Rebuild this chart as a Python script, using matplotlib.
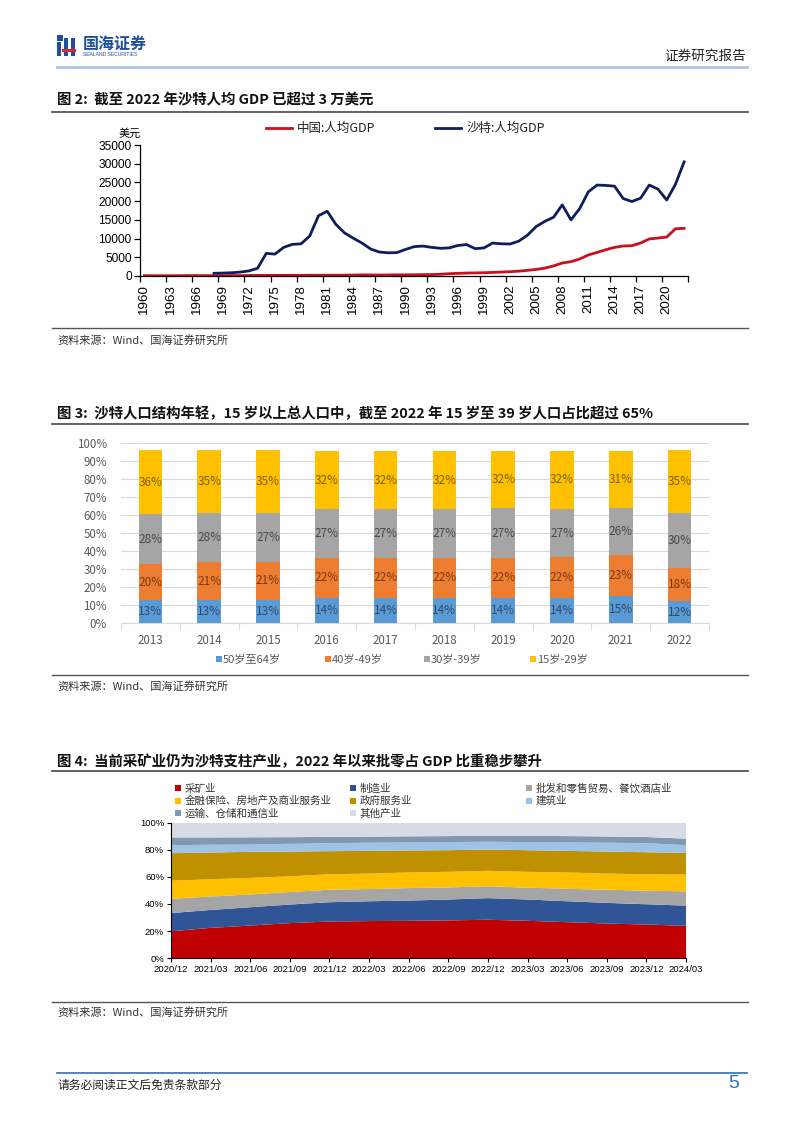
import matplotlib
matplotlib.use('Agg')
import matplotlib.pyplot as plt
from matplotlib.patches import Rectangle
from matplotlib.lines import Line2D
import numpy as np

plt.rcParams['font.family'] = ['Noto Sans CJK SC', 'DejaVu Sans']

# ---------------- data ----------------
gdp_years = list(range(1960, 2023))
china_gdp = [90, 76, 70, 74, 85, 98, 104, 96, 91, 100,
             113, 119, 132, 157, 160, 178, 165, 185, 156, 184,
             195, 197, 203, 225, 250, 294, 282, 252, 284, 311,
             318, 333, 366, 377, 473, 610, 709, 782, 829, 873,
             959, 1053, 1149, 1289, 1509, 1753, 2099, 2694, 3468, 3832,
             4550, 5614, 6301, 7020, 7636, 8016, 8094, 8817, 9905, 10144,
             10409, 12618, 12720]
saudi_years = list(range(1968, 2023))
saudi_gdp = [720, 790, 870, 1050, 1350, 2050, 6050, 5850, 7650, 8450,
             8600, 10700, 16100, 17300, 13800, 11500, 10100, 8800, 7200, 6400,
             6200, 6250, 7100, 7850, 8000, 7650, 7400, 7500, 8150, 8400,
             7300, 7500, 8800, 8600, 8550, 9300, 10900, 13200, 14600, 15700,
             19000, 15000, 18000, 22500, 24300, 24200, 24000, 20700, 19900, 20800,
             24300, 23200, 20300, 24500, 30500]
gdp_tick_years = list(range(1960, 2021, 3))

pop_years = ['2013', '2014', '2015', '2016', '2017', '2018', '2019', '2020', '2021', '2022']
pop_50_64 = [12.8, 13.0, 13.2, 14.2, 14.2, 14.3, 14.2, 14.2, 15.3, 12.3]
pop_40_49 = [20.2, 20.8, 21.0, 22.2, 22.2, 22.2, 22.3, 22.4, 22.6, 18.4]
pop_30_39 = [27.6, 27.6, 27.0, 27.0, 27.0, 27.0, 27.3, 27.0, 26.4, 30.4]
pop_15_29 = [35.6, 34.8, 35.0, 32.4, 32.3, 32.2, 32.0, 32.2, 31.2, 35.4]
pop_names = ['50岁至64岁', '40岁-49岁', '30岁-39岁', '15岁-29岁']

quarters = ['2020/12', '2021/03', '2021/06', '2021/09', '2021/12', '2022/03', '2022/06',
            '2022/09', '2022/12', '2023/03', '2023/06', '2023/09', '2023/12', '2024/03']
mining = [19.9, 22.4, 24.1, 25.9, 27.1, 27.4, 27.6, 27.9, 28.4, 27.6, 26.6, 25.6, 24.9, 23.9]
manufacturing = [13.4, 13.2, 13.5, 13.7, 14.2, 14.6, 14.9, 15.4, 15.9, 15.7, 15.4, 15.2, 14.9, 14.9]
trade = [10.5, 9.9, 9.4, 9.2, 9.2, 9.0, 9.2, 8.9, 8.7, 8.7, 9.2, 9.7, 10.0, 10.5]
finance = [13.4, 12.7, 12.2, 11.6, 11.4, 11.4, 11.5, 11.5, 11.4, 11.7, 12.0, 11.9, 12.1, 12.4]
government = [20.2, 19.7, 19.2, 18.2, 17.0, 16.7, 16.2, 15.9, 15.7, 15.9, 15.9, 16.2, 16.2, 15.9]
construction = [5.9, 5.7, 5.4, 5.7, 5.9, 6.0, 5.9, 6.0, 5.7, 6.0, 6.2, 6.5, 6.7, 5.7]
transport = [5.7, 5.4, 5.3, 4.9, 4.6, 4.5, 4.5, 4.4, 4.5, 4.6, 4.7, 4.6, 4.5, 4.8]
other = [11.0, 11.0, 10.9, 10.8, 10.6, 10.4, 10.2, 10.0, 9.7, 9.8, 10.0, 10.3, 10.7, 11.9]
industry_names = ['采矿业', '制造业', '批发和零售贸易、餐饮酒店业',
                  '金融保险、房地产及商业服务业', '政府服务业', '建筑业',
                  '运输、仓储和通信业', '其他产业']

# ---------------- figure helpers ----------------
W, H = 802, 1133
fig = plt.figure(figsize=(W / 100, H / 100), dpi=100)

def fx(x):
    return x / W

def fy(y):
    return 1 - y / H

def add_ax(l, t, r, b):
    return fig.add_axes([l / W, 1 - b / H, (r - l) / W, (b - t) / H])

def hline(y, x0, x1, color, lw):
    fig.add_artist(Line2D([fx(x0), fx(x1)], [fy(y), fy(y)], color=color, lw=lw))

def txt(x, y, s, **kw):
    kw.setdefault('va', 'center')
    fig.text(fx(x), fy(y), s, **kw)

def square(x, y, size, color):
    fig.add_artist(Rectangle((fx(x), fy(y + size / 2)), size / W, size / H,
                             facecolor=color, edgecolor='none', transform=fig.transFigure))

# ---------------- header / footer ----------------
logo_blue = '#1F4E9A'
square(57, 38, 6, logo_blue)
fig.add_artist(Rectangle((fx(57), fy(56)), 4 / W, 14 / H, facecolor=logo_blue, transform=fig.transFigure))
fig.add_artist(Rectangle((fx(64), fy(56)), 4 / W, 18 / H, facecolor=logo_blue, transform=fig.transFigure))
fig.add_artist(Rectangle((fx(71), fy(56)), 4 / W, 18 / H, facecolor=logo_blue, transform=fig.transFigure))
fig.add_artist(Rectangle((fx(62), fy(52)), 14 / W, 3 / H, facecolor='#D9262C', transform=fig.transFigure))
txt(83, 44, '国海证券', fontsize=11.5, fontweight='bold', color=logo_blue)
txt(83, 54.5, 'SEALAND SECURITIES', fontsize=3.6, color=logo_blue, family=['Liberation Sans'])
txt(746, 56, '证券研究报告', fontsize=9.8, ha='right', color='#222222')
hline(67, 57, 747, '#A9C4E8', 2.0)

hline(1073, 57, 747, '#2F6EBA', 1.2)
txt(57, 1085, '请务必阅读正文后免责条款部分', fontsize=8.5, color='#222222')
txt(739, 1084, '5', fontsize=14, ha='right', color='#2F6EBA', family=['Liberation Sans'])

title_kw = dict(fontsize=10.4, fontweight='bold', color='#111111')
src_kw = dict(fontsize=8, color='#333333')

# ---------------- chart 1 ----------------
txt(57, 100, '图 2:  截至 2022 年沙特人均 GDP 已超过 3 万美元', **title_kw)
hline(111.5, 52, 748, '#555555', 1.3)

ax1 = add_ax(140, 145, 688.5, 276)
xc = np.array(gdp_years) - gdp_years[0]
xs = np.array(saudi_years) - gdp_years[0]
ax1.plot(xc, china_gdp, color='#C8101E', lw=2.0, solid_joinstyle='round')
ax1.plot(xs, saudi_gdp, color='#0E1E5B', lw=2.0, solid_joinstyle='round')
ax1.set_xlim(-0.5, len(gdp_years) - 0.5)
ax1.set_ylim(0, 35000)
ax1.set_yticks(range(0, 35001, 5000))
ax1.set_xticks([y - gdp_years[0] for y in gdp_tick_years])
ax1.set_xticklabels([str(y) for y in gdp_tick_years], rotation=90, family=['Liberation Sans'], fontsize=9.6)
minor = [y - gdp_years[0] - 0.5 for y in gdp_tick_years] + [len(gdp_years) - 0.5]
ax1.set_xticks(minor, minor=True)
ax1.tick_params(axis='x', which='major', length=0, pad=6)
ax1.tick_params(axis='x', which='minor', length=4, width=0.9, direction='out')
ax1.tick_params(axis='y', length=4, width=0.9, direction='out', pad=2)
for lab in ax1.get_yticklabels():
    lab.set_family(['Liberation Sans'])
    lab.set_fontsize(8.6)
for s in ['top', 'right']:
    ax1.spines[s].set_visible(False)
for s in ['left', 'bottom']:
    ax1.spines[s].set_linewidth(0.9)
txt(130, 134, '美元', fontsize=8, ha='center')

fig.add_artist(Line2D([fx(266), fx(292)], [fy(128.3)] * 2, color='#C8101E', lw=2))
txt(297, 128.3, '中国:人均GDP', fontsize=9, color='#222222')
fig.add_artist(Line2D([fx(435), fx(461)], [fy(128.3)] * 2, color='#0E1E5B', lw=2))
txt(467, 128.3, '沙特:人均GDP', fontsize=9, color='#222222')

hline(328, 52, 748, '#555555', 1.0)
txt(57, 340, '资料来源：Wind、国海证券研究所', **src_kw)

# ---------------- chart 2 ----------------
txt(57, 414, '图 3:  沙特人口结构年轻，15 岁以上总人口中，截至 2022 年 15 岁至 39 岁人口占比超过 65%', **title_kw)
hline(424, 52, 748, '#555555', 1.3)

ax2 = add_ax(121, 443.3, 709, 623.3)
pop_colors = ['#5B9BD5', '#ED7D31', '#A5A5A5', '#FFC000']
lab_colors = ['#2E4A6B', '#7A3A10', '#4A4A4A', '#7F6000']
series = [pop_50_64, pop_40_49, pop_30_39, pop_15_29]
xp = np.arange(len(pop_years))
bottom = np.zeros(len(pop_years))
for vals, c, lc in zip(series, pop_colors, lab_colors):
    v = np.array(vals)
    ax2.bar(xp, v, 0.40, bottom=bottom, color=c, zorder=3)
    for xi, bi, vi in zip(xp, bottom, v):
        ax2.text(xi, bi + vi / 2, f'{vi:.0f}%', ha='center', va='center',
                 fontsize=8.5, color=lc, zorder=4)
    bottom = bottom + v
ax2.set_xlim(-0.5, len(pop_years) - 0.5)
ax2.set_ylim(0, 100)
ax2.set_yticks(range(0, 101, 10))
ax2.set_yticklabels([f'{v}%' for v in range(0, 101, 10)])
ax2.grid(axis='y', color='#D9D9D9', lw=0.8, zorder=0)
ax2.set_xticks(xp)
ax2.set_xticklabels(pop_years)
ax2.set_xticks(np.arange(-0.5, len(pop_years)), minor=True)
ax2.tick_params(axis='x', which='major', length=0, pad=8, labelsize=8.3, labelcolor='#595959')
ax2.tick_params(axis='x', which='minor', length=5, color='#D9D9D9', width=0.8)
ax2.tick_params(axis='y', length=0, pad=10, labelsize=8.3, labelcolor='#595959')
for s in ['top', 'right', 'left']:
    ax2.spines[s].set_visible(False)
ax2.spines['bottom'].set_color('#D9D9D9')
ax2.spines['bottom'].set_linewidth(0.8)

leg_x = [216, 324.5, 424, 530]
for lx, c, name in zip(leg_x, pop_colors, pop_names):
    square(lx, 659, 6, c)
    txt(lx + 7, 659, name, fontsize=8, color='#595959')

hline(675, 52, 748, '#555555', 1.0)
txt(57, 686, '资料来源：Wind、国海证券研究所', **src_kw)

# ---------------- chart 3 ----------------
txt(57, 762, '图 4:  当前采矿业仍为沙特支柱产业，2022 年以来批零占 GDP 比重稳步攀升', **title_kw)
hline(771, 52, 748, '#555555', 1.3)

ind_colors = ['#C00000', '#2F5597', '#A5A5A5', '#FFC000', '#BF9000', '#9DC3E6', '#8497B0', '#D6DCE5']
ind_series = [mining, manufacturing, trade, finance, government, construction, transport, other]
ax3 = add_ax(171, 822.5, 686, 958.3)
xq = np.arange(len(quarters))
ax3.stackplot(xq, *ind_series, colors=ind_colors, lw=0)
ax3.set_xlim(0, len(quarters) - 1)
ax3.set_ylim(0, 100)
ax3.set_yticks(range(0, 101, 20))
ax3.set_yticklabels([f'{v}%' for v in range(0, 101, 20)])
ax3.set_xticks(xq)
ax3.set_xticklabels(quarters)
ax3.tick_params(axis='both', length=3, width=0.8, direction='out', labelsize=6.8, pad=2)
for lab in ax3.get_xticklabels() + ax3.get_yticklabels():
    lab.set_family(['Liberation Sans Narrow', 'Liberation Sans'])
for s in ['top', 'right']:
    ax3.spines[s].set_visible(False)
for s in ['left', 'bottom']:
    ax3.spines[s].set_linewidth(0.8)

leg_cols = [175, 349.5, 526]
leg_rows = [788.3, 800.7, 813.3]
for k, (c, name) in enumerate(zip(ind_colors, industry_names)):
    lx = leg_cols[k % 3]
    ly = leg_rows[k // 3]
    square(lx, ly, 6, c)
    txt(lx + 10, ly, name, fontsize=7.6, color='#333333')

hline(1002.3, 52, 748, '#555555', 1.0)
txt(57, 1012.7, '资料来源：Wind、国海证券研究所', **src_kw)

fig.savefig('out.png', dpi=100)
